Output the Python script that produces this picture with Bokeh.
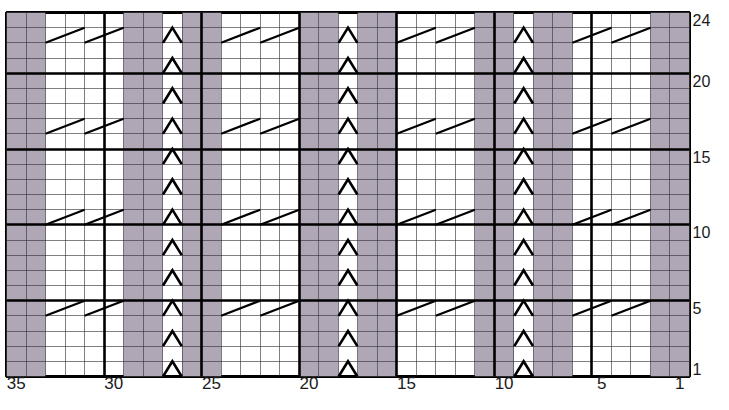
from bokeh.plotting import figure
from bokeh.models import Range1d, FixedTicker, Grid
from bokeh.embed import file_html
from bokeh.resources import INLINE

# ---- chart data ----
n_cols = 35                      # stitches, numbered right to left
n_rows = 24                      # rows, numbered bottom to top
purl_cols = [1, 2, 7, 8, 10, 11, 16, 17, 19, 20, 25, 26, 28, 29, 34, 35]   # shaded columns
chevron_cols = [9, 18, 27]       # columns with the "^" symbol
chevron_rows = [1, 3, 5, 7, 9, 11, 13, 15, 17, 19, 21, 23]
cable_rows = [5, 11, 17, 23]     # rows with the slanted cable symbols
cable_block_start = [3, 12, 21, 30]   # rightmost column of each 4-stitch cable block
x_tick_cols = [35, 30, 25, 20, 15, 10, 5, 1]
y_tick_rows = [24, 20, 15, 10, 5, 1]
major_every = 5

GRAY = "#b0a7b6"

p = figure(width=713, height=394,
           x_range=Range1d(n_cols, 0), y_range=Range1d(0, n_rows),
           output_backend="svg", toolbar_location=None,
           x_axis_location="below", y_axis_location="right",
           min_border_left=6, min_border_top=12, min_border_right=21, min_border_bottom=18)
p.background_fill_color = "white"
p.border_fill_color = "white"
p.outline_line_color = "black"
p.outline_line_width = 3

# shaded columns
p.quad(left=[c for c in purl_cols], right=[c - 1 for c in purl_cols],
       bottom=0, top=n_rows, fill_color=GRAY, line_color=None)

# thin grid
p.xgrid.ticker = FixedTicker(ticks=list(range(1, n_cols)))
p.ygrid.ticker = FixedTicker(ticks=list(range(1, n_rows)))
for g in (p.xgrid[0], p.ygrid[0]):
    g.grid_line_color = "#2e2a32"
    g.grid_line_alpha = 0.6
    g.grid_line_width = 1
    g.level = "guide"

# thick grid every 5
gx = Grid(dimension=0, ticker=FixedTicker(ticks=list(range(major_every, n_cols, major_every))),
          grid_line_color="black", grid_line_width=2.6, level="guide")
gy = Grid(dimension=1, ticker=FixedTicker(ticks=list(range(major_every, n_rows, major_every))),
          grid_line_color="black", grid_line_width=2.6, level="guide")
p.add_layout(gx, "center")
p.add_layout(gy, "center")

# chevron symbols
cxs, cys = [], []
for c in chevron_cols:
    for r in chevron_rows:
        cxs.append([c - 0.02, c - 0.5, c - 0.98])
        cys.append([r - 1, r, r - 1])
ch = p.multi_line(cxs, cys, line_color="black", line_width=2.6, line_join="miter")
ch.level = "annotation"

# cable slashes
x0s, y0s, x1s, y1s = [], [], [], []
for s in cable_block_start:
    for r in cable_rows:
        for left in (s + 3, s + 1):
            x0s.append(left)
            x1s.append(left - 2)
            y0s.append(r - 1)
            y1s.append(r)
sg = p.segment(x0=x0s, y0=y0s, x1=x1s, y1=y1s, line_color="black", line_width=2.2)
sg.level = "annotation"

# axes
p.xaxis.ticker = FixedTicker(ticks=[c - 0.5 for c in x_tick_cols])
p.xaxis.major_label_overrides = {c - 0.5: str(c) for c in x_tick_cols}
p.yaxis.ticker = FixedTicker(ticks=[r - 0.5 for r in y_tick_rows])
p.yaxis.major_label_overrides = {r - 0.5: str(r) for r in y_tick_rows}
for ax in (p.xaxis[0], p.yaxis[0]):
    ax.axis_line_color = None
    ax.major_tick_line_color = None
    ax.minor_tick_line_color = None
    ax.major_tick_out = 0
    ax.major_tick_in = 0
    ax.major_label_text_color = "#1a1a1a"
    ax.major_label_text_font = "Liberation Sans"
p.xaxis.major_label_text_font_size = "17px"
p.xaxis.major_label_standoff = 0
p.yaxis.major_label_text_font_size = "16px"
p.yaxis.major_label_standoff = 3

open("out.html", "w").write(file_html(p, INLINE))
